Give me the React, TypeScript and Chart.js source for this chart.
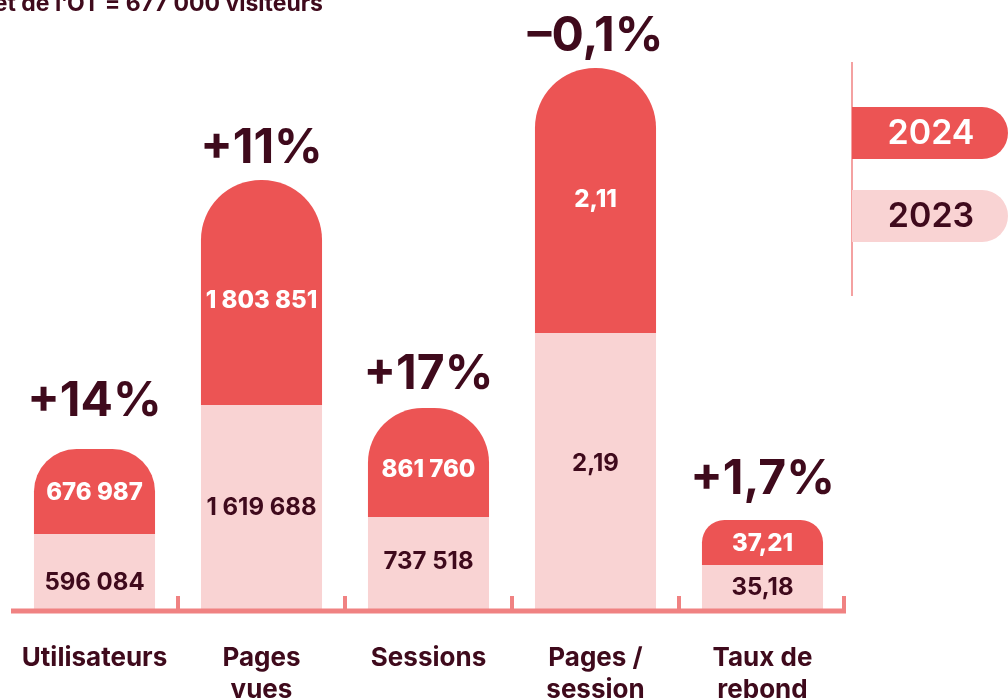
import React, { useEffect, useRef } from "react";
import { Chart, registerables } from "chart.js";

Chart.register(...registerables);

// ---- data ----
const categories = ["Utilisateurs", "Pages vues", "Sessions", "Pages / session", "Taux de rebond"];
const categoryLines = [["Utilisateurs"], ["Pages", "vues"], ["Sessions"], ["Pages /", "session"], ["Taux de", "rebond"]];
const seriesNames = ["2023", "2024"];
// visual segment heights (illustrative units)
const height2023 = [75, 204, 92, 276, 44];
const height2024 = [85, 225, 109, 265, 45];
const labels2023 = ["596 084", "1 619 688", "737 518", "2,19", "35,18"];
const labels2024 = ["676 987", "1 803 851", "861 760", "2,11", "37,21"];
const changeLabels = ["+14%", "+11%", "+17%", "–0,1%", "+1,7%"];
const subtitle = "Site internet de l’OT = 677 000 visiteurs";

// ---- styles ----
const RED = "#EC5454";
const PINK = "#F9D3D3";
const AXIS = "#F08282";
const DARK = "#3F0A1C";
const FONT = "Inter, 'Noto Sans', sans-serif";
const pctGap = [47, 31, 33, 31, 40];
const pinkShift = [10, 0, -2, -8, 0];
const redShift = [0, 7, 6, -2, 0];

const overlay = {
  id: "overlay",
  afterDatasetsDraw(chart: any) {
    const ctx = chart.ctx as CanvasRenderingContext2D;
    const area = chart.chartArea;
    const xScale = chart.scales.x;
    const m23 = chart.getDatasetMeta(0);
    const m24 = chart.getDatasetMeta(1);
    ctx.save();

    // axis line and tick marks
    const axisY = area.bottom + 2;
    ctx.strokeStyle = AXIS;
    ctx.lineWidth = 5;
    ctx.beginPath();
    ctx.moveTo(area.left, axisY);
    ctx.lineTo(area.right, axisY);
    ctx.stroke();
    ctx.lineWidth = 4;
    const step = (area.right - area.left) / categories.length;
    for (let i = 1; i <= categories.length; i++) {
      const x = area.left + step * i - (i === categories.length ? 2 : 0);
      ctx.beginPath();
      ctx.moveTo(x, axisY);
      ctx.lineTo(x, axisY - 15);
      ctx.stroke();
    }

    ctx.textAlign = "center";
    ctx.textBaseline = "middle";
    for (let i = 0; i < categories.length; i++) {
      const b23 = m23.data[i];
      const b24 = m24.data[i];
      // 2023 value
      ctx.fillStyle = DARK;
      ctx.font = `700 24px ${FONT}`;
      ctx.fillText(labels2023[i], b23.x, (b23.y + b23.base) / 2 + 1 + pinkShift[i]);
      // 2024 value
      ctx.fillStyle = "#FFFFFF";
      ctx.font = `800 24px ${FONT}`;
      ctx.fillText(labels2024[i], b24.x, (b24.y + b24.base) / 2 + 1 + redShift[i]);
      // change label
      ctx.fillStyle = DARK;
      ctx.font = `700 48px ${FONT}`;
      ctx.fillText(changeLabels[i], b24.x, b24.y - pctGap[i]);
      // category label
      ctx.font = `700 26px ${FONT}`;
      const cx = xScale.getPixelForValue(i);
      categoryLines[i].forEach((line, k) => {
        ctx.fillText(line, cx, 658 + k * 32);
      });
    }

    // subtitle (clipped at the top-left)
    ctx.textAlign = "right";
    ctx.textBaseline = "alphabetic";
    ctx.font = `700 23px ${FONT}`;
    ctx.fillStyle = DARK;
    ctx.fillText(subtitle, 323, 11);

    // legend
    const lx = 852;
    ctx.strokeStyle = AXIS;
    ctx.lineWidth = 1.5;
    ctx.beginPath();
    ctx.moveTo(lx, 62);
    ctx.lineTo(lx, 296);
    ctx.stroke();
    const pills = [
      { name: seriesNames[1], y: 107, bg: RED, fg: "#FFFFFF" },
      { name: seriesNames[0], y: 190, bg: PINK, fg: DARK },
    ];
    pills.forEach((p) => {
      const h = 52;
      const r = 26;
      const right = 1008;
      ctx.fillStyle = p.bg;
      ctx.beginPath();
      ctx.moveTo(lx, p.y);
      ctx.lineTo(right - r, p.y);
      ctx.arc(right - r, p.y + r, r, -Math.PI / 2, Math.PI / 2);
      ctx.lineTo(lx, p.y + h);
      ctx.closePath();
      ctx.fill();
      ctx.fillStyle = p.fg;
      ctx.font = `600 34px ${FONT}`;
      ctx.textAlign = "center";
      ctx.textBaseline = "middle";
      ctx.fillText(p.name, 931, p.y + h / 2 + 1);
    });

    ctx.restore();
  },
};

export default function App() {
  const ref = useRef<HTMLCanvasElement | null>(null);
  useEffect(() => {
    if (!ref.current) return;
    const chart = new Chart(ref.current, {
      type: "bar",
      data: {
        labels: categories,
        datasets: [
          {
            label: seriesNames[0],
            data: height2023,
            backgroundColor: PINK,
            borderRadius: 0,
            borderWidth: 0,
          },
          {
            label: seriesNames[1],
            data: height2024,
            backgroundColor: RED,
            borderRadius: 60,
            borderSkipped: "start",
            borderWidth: 0,
          },
        ],
      },
      options: {
        responsive: false,
        animation: false,
        devicePixelRatio: 1,
        layout: { padding: { left: 11, right: 162, top: 0, bottom: 91 } },
        datasets: { bar: { categoryPercentage: 1, barPercentage: 0.725 } },
        scales: {
          x: { stacked: true, display: false, offset: true },
          y: { stacked: true, display: false, min: 0, max: 609 },
        },
        plugins: { legend: { display: false }, tooltip: { enabled: false } },
      },
      plugins: [overlay],
    });
    return () => chart.destroy();
  }, []);
  return (
    <div style={{ position: "absolute", left: 0, top: 0, width: 1008, height: 700, background: "#fff" }}>
      <canvas ref={ref} width={1008} height={700} style={{ display: "block" }} />
    </div>
  );
}
